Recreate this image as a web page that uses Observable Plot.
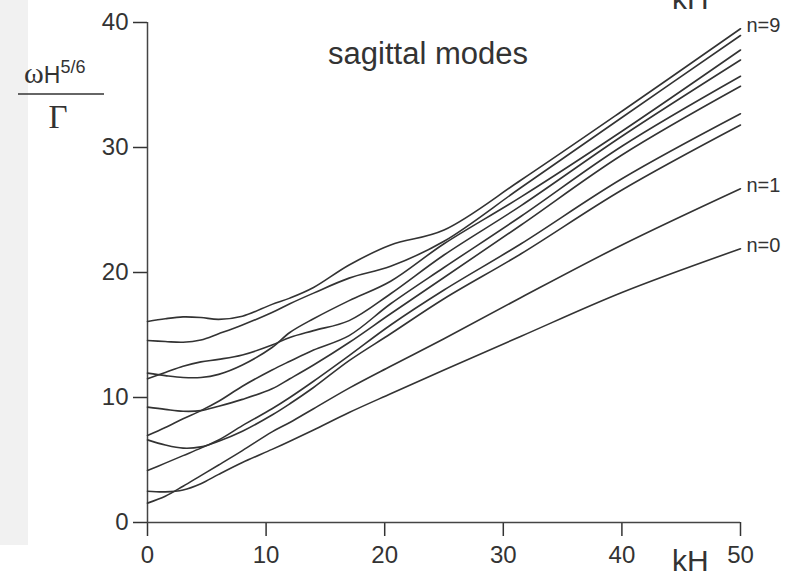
<!DOCTYPE html>
<html>
<head>
<meta charset="utf-8">
<script src="https://cdn.jsdelivr.net/npm/d3@7"></script>
<script src="https://cdn.jsdelivr.net/npm/@observablehq/plot@0.6"></script>
<style>
  body { margin: 0; background: #fff; }
  #chart svg { display: block; }
</style>
</head>
<body>
<div id="chart"></div>
<script>
// Sagittal mode dispersion curves: normalised frequency against kH
const kH = [0, 1.5, 3, 4.5, 6, 8, 10.5, 12, 14, 17, 20.5, 25, 31.5, 40, 50];

const modeNames = ["n=0", "n=1", "n=2", "n=3", "n=4", "n=5", "n=6", "n=7", "n=8", "n=9"];

const mode0 = [2.5, 2.45, 2.6, 3.1, 3.85, 4.8, 5.85, 6.5, 7.4, 8.8, 10.3, 12.2, 14.9, 18.4, 21.9];
const mode1 = [1.55, 2.1, 2.9, 3.75, 4.6, 5.75, 7.25, 8.0, 9.1, 10.75, 12.5, 14.7, 18.0, 22.2, 26.7];
const mode2 = [6.61, 6.2, 5.95, 6.05, 6.5, 7.3, 8.6, 9.5, 10.8, 12.95, 15.1, 17.9, 21.5, 26.6, 31.8];
const mode3 = [4.16, 4.75, 5.35, 5.95, 6.6, 7.75, 9.1, 10.0, 11.3, 13.35, 15.8, 18.6, 22.3, 27.5, 32.7];
const mode4 = [9.23, 9.05, 8.9, 8.95, 9.3, 9.85, 10.7, 11.5, 12.6, 14.4, 16.7, 19.6, 23.8, 29.4, 34.9];
const mode5 = [6.96, 7.6, 8.3, 8.95, 9.7, 10.9, 12.2, 12.9, 13.8, 14.95, 17.5, 20.4, 24.5, 30.1, 35.7];
const mode6 = [11.5, 12.0, 12.5, 12.85, 13.05, 13.4, 14.2, 14.8, 15.35, 16.15, 18.3, 21.4, 25.35, 30.9, 37.0];
const mode7 = [11.95, 11.75, 11.6, 11.6, 11.85, 12.6, 14.0, 15.2, 16.3, 17.75, 19.3, 22.3, 26.05, 31.3, 37.8];
const mode8 = [14.56, 14.48, 14.42, 14.6, 15.1, 15.8, 16.8, 17.5, 18.35, 19.55, 20.5, 22.5, 26.8, 32.4, 38.96];
const mode9 = [16.08, 16.3, 16.45, 16.4, 16.25, 16.5, 17.45, 17.95, 18.8, 20.6, 22.2, 23.4, 27.4, 32.9, 39.5];

const labelledModes = ["n=0", "n=1", "n=9"];

const xTicks = [0, 10, 20, 30, 40, 50];
const yTicks = [0, 10, 20, 30, 40];

const title = "sagittal modes";
const xLabel = "kH";

// long-format table for Plot
const modeSeries = [mode0, mode1, mode2, mode3, mode4, mode5, mode6, mode7, mode8, mode9];
const rows = modeNames.flatMap((name, i) =>
  kH.map((k, j) => ({mode: name, k, w: modeSeries[i][j]}))
);
const endRows = modeNames
  .map((name, i) => ({mode: name, k: kH[kH.length - 1], w: modeSeries[i][kH.length - 1]}))
  .filter(d => labelledModes.includes(d.mode));

const ink = "#333";
const axisInk = "#444";

const chart = Plot.plot({
  width: 789,
  height: 577,
  marginLeft: 147,
  marginRight: 49,
  marginTop: 22,
  marginBottom: 55,
  x: {domain: [0, 50]},
  y: {domain: [0, 40]},
  style: {
    fontFamily: "'Liberation Sans', Arial, sans-serif",
    color: ink,
    background: "#fff",
    overflow: "visible"
  },
  marks: [
    Plot.axisX({ticks: xTicks, tickSize: 14, tickPadding: 9, fontSize: 24, strokeWidth: 1.5, label: null}),
    Plot.axisY({ticks: yTicks, tickSize: 14, tickPadding: 5, fontSize: 24, strokeWidth: 1.5, label: null}),
    Plot.ruleY([0], {stroke: axisInk, strokeWidth: 1.5}),
    Plot.ruleX([0], {stroke: axisInk, strokeWidth: 1.5}),
    Plot.line(rows, {x: "k", y: "w", z: "mode", curve: "catmull-rom", stroke: ink, strokeWidth: 1.6}),
    Plot.text(endRows, {x: "k", y: "w", text: "mode", dx: 6, dy: -3, textAnchor: "start", fontSize: 20, fill: ink}),
    Plot.text([title], {x: 23.65, y: 37.5, text: d => d, fontSize: 31, fill: ink})
  ]
});

document.getElementById("chart").append(chart);

const svg = d3.select(chart);

// faint grey strip along the left edge of the sheet
svg.insert("rect", ":first-child")
  .attr("x", 0).attr("y", 0).attr("width", 28).attr("height", 545)
  .attr("fill", "#f1f1f1");

// y-axis label as a stacked fraction, and the kH axis label
const ylab = svg.append("g").attr("fill", ink).attr("text-anchor", "start");
const num = ylab.append("text").attr("x", 24).attr("y", 83);
num.append("tspan").attr("font-family", "'Liberation Serif', 'Times New Roman', serif").attr("font-size", 30).text("ω");
num.append("tspan").attr("font-size", 23).text("H");
num.append("tspan").attr("font-size", 18).attr("dy", -10).text("5/6");
ylab.append("line").attr("x1", 18).attr("x2", 104).attr("y1", 94).attr("y2", 94)
  .attr("stroke", ink).attr("stroke-width", 1.6);
ylab.append("text").attr("x", 58).attr("y", 128).attr("text-anchor", "middle")
  .attr("font-family", "'Liberation Serif', 'Times New Roman', serif").attr("font-size", 33).text("Γ");

svg.append("text").attr("x", 672).attr("y", 571).attr("text-anchor", "start")
  .attr("font-size", 30).attr("fill", ink).text(xLabel);
svg.append("text").attr("x", 672).attr("y", 9).attr("text-anchor", "start")
  .attr("font-size", 30).attr("fill", ink).text(xLabel);
</script>
</body>
</html>
